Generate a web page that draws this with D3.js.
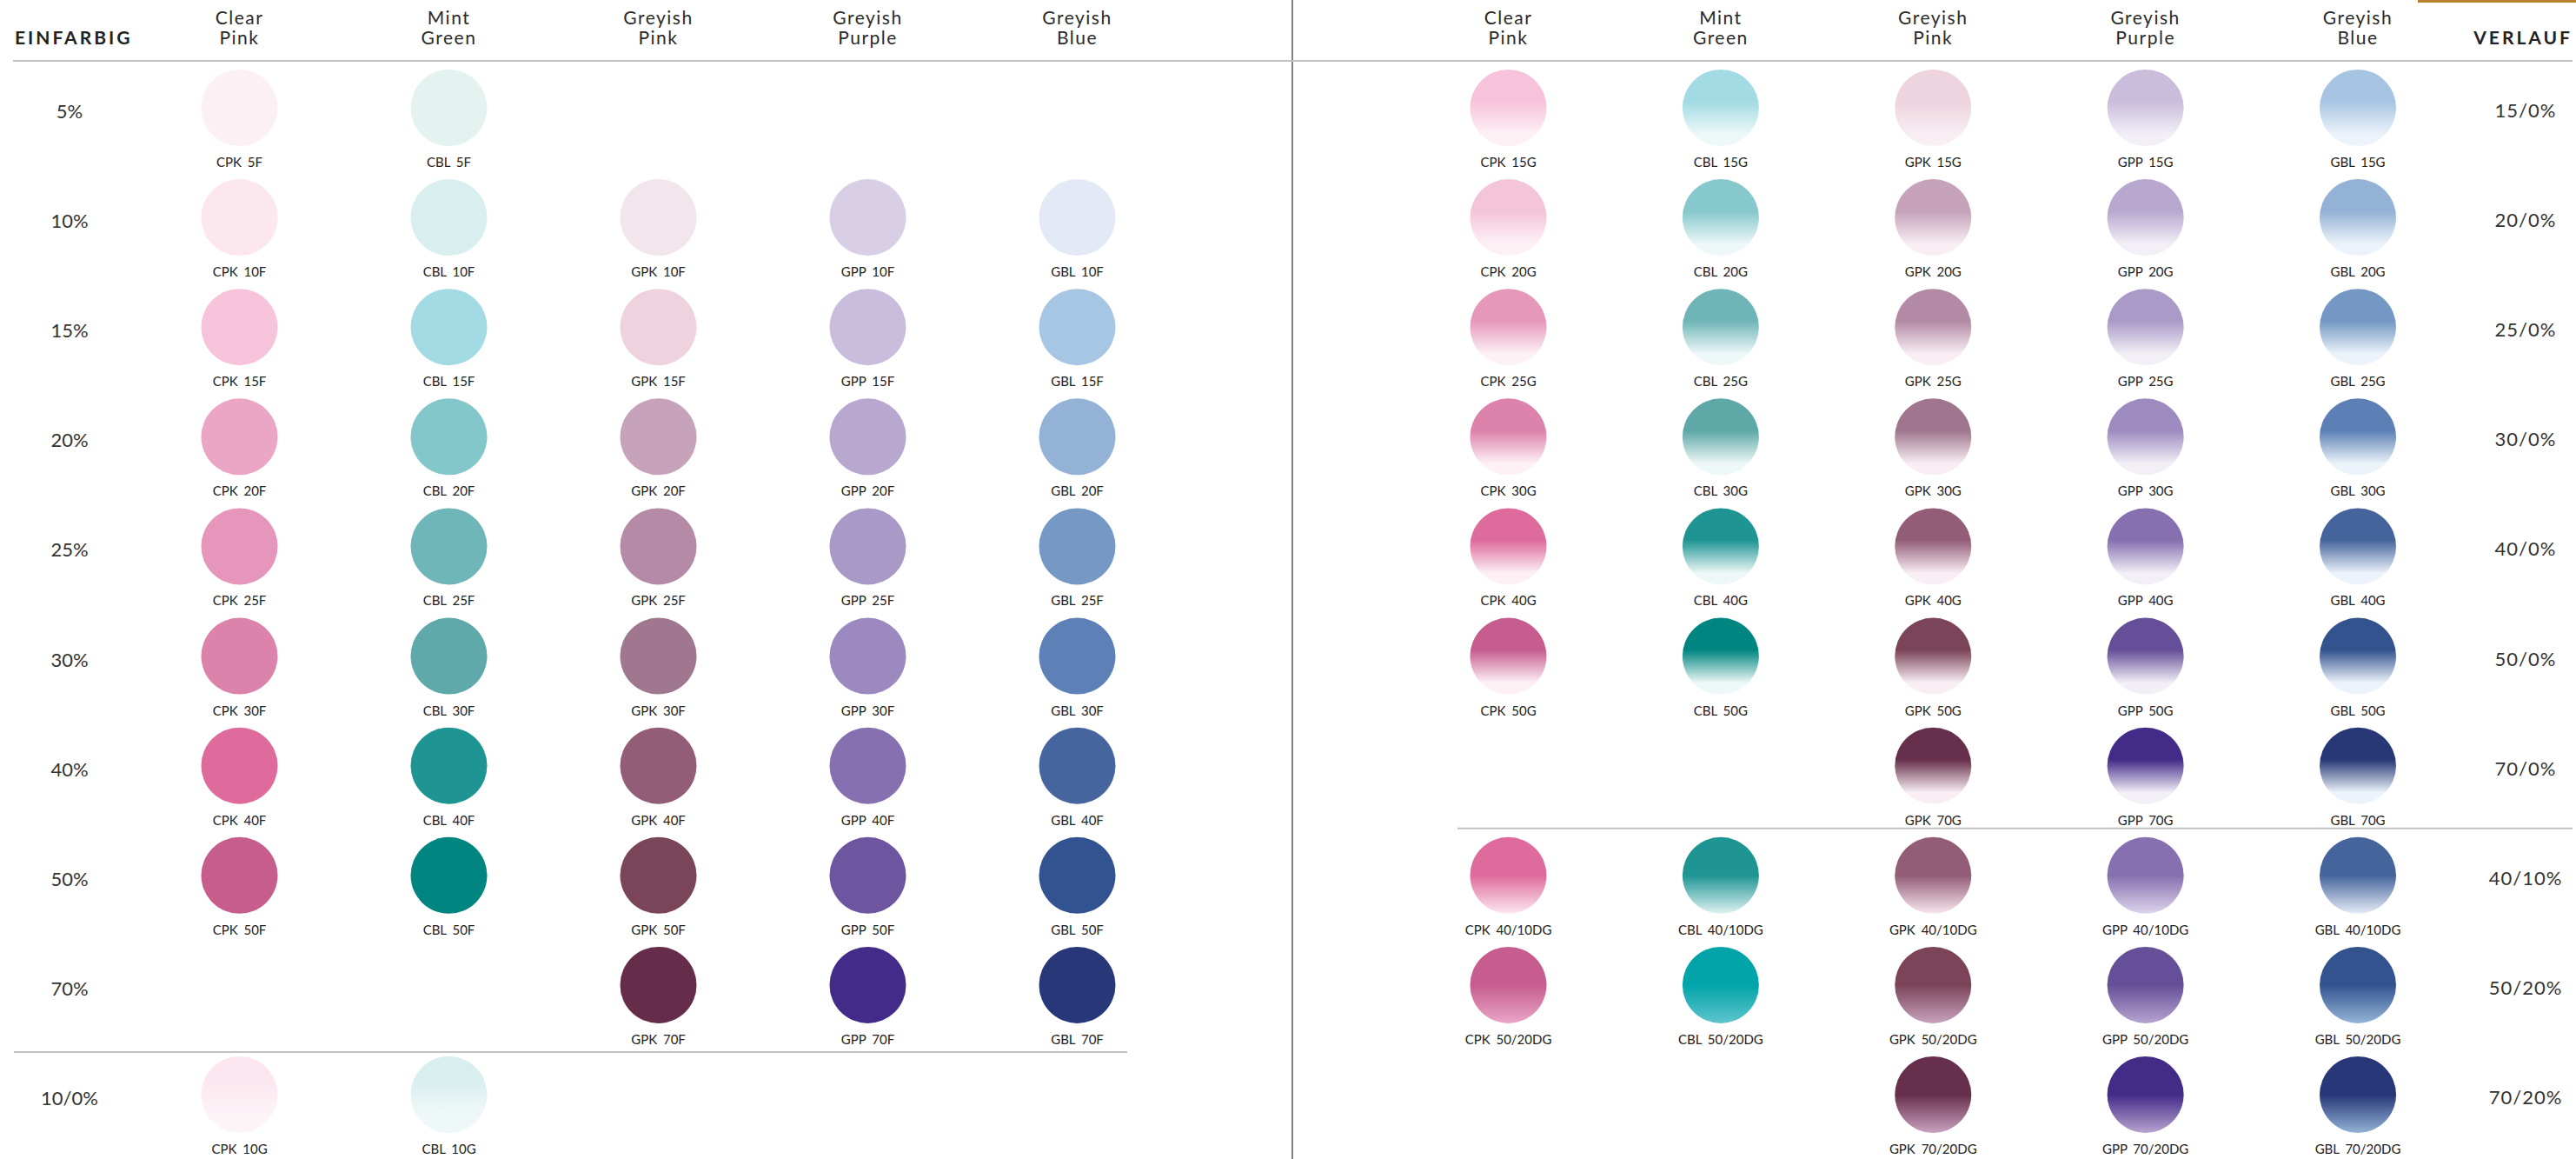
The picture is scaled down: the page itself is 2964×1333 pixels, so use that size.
<!DOCTYPE html>
<html>
<head>
<meta charset="utf-8">
<script src="https://cdn.jsdelivr.net/npm/d3@7"></script>
<style>
  body { margin: 0; background: #fff; }
  svg { display: block; font-family: Lato, 'Open Sans', sans-serif; }
</style>
</head>
<body>
<svg id="chart" width="2964" height="1333"></svg>
<script>
var seriesCodes = ['CPK', 'CBL', 'GPK', 'GPP', 'GBL']
var seriesTitles = [['Clear', 'Pink'], ['Mint', 'Green'], ['Greyish', 'Pink'], ['Greyish', 'Purple'], ['Greyish', 'Blue']]

// EINFARBIG - solid tints
var solidRows = ['5%', '10%', '15%', '20%', '25%', '30%', '40%', '50%', '70%']
var solidSuffix = ['5F', '10F', '15F', '20F', '25F', '30F', '40F', '50F', '70F']
var solidCPK = ['#fcf0f5', '#fce7ef', '#f7c3da', '#eba6c6', '#e696bb', '#dc83ab', '#de6b9b', '#c65d8d', null]
var solidCBL = ['#e4f3f0', '#d9efef', '#a3dbe4', '#84c7cb', '#6fb6b9', '#5fa9aa', '#1f9593', '#008580', null]
var solidGPK = [null, '#f2e5eb', '#eed2de', '#c7a2bb', '#b48aa6', '#9f778f', '#935d77', '#7a4459', '#652d4a']
var solidGPP = [null, '#d8cee6', '#cabcdc', '#b8a8d0', '#a999c7', '#9c89bf', '#8770b0', '#6e55a0', '#432b89']
var solidGBL = [null, '#e3e9f5', '#a7c6e3', '#94b2d5', '#7598c4', '#5d80b6', '#46649d', '#32538f', '#283778']

// EINFARBIG - faded row at the bottom
var fadeRows = ['10/0%']
var fadeSuffix = ['10G']
var fadeTop = ['#fce6ef', '#d8eeef', null, null, null]
var fadeBottom = ['#fdf4f8', '#eff8f8', null, null, null]

// VERLAUF - gradients to clear
var verlaufRows = ['15/0%', '20/0%', '25/0%', '30/0%', '40/0%', '50/0%', '70/0%']
var verlaufSuffix = ['15G', '20G', '25G', '30G', '40G', '50G', '70G']
var verlaufCPK = ['#f7c3da', '#f4c4d8', '#e698bb', '#dc82ab', '#de6b9b', '#c65d8e', null]
var verlaufCBL = ['#a2dbe4', '#86c8cc', '#6fb5b8', '#5fa8a8', '#1f9593', '#008580', null]
var verlaufGPK = ['#eed4de', '#c6a2bb', '#b38aa5', '#9f768e', '#935d78', '#7b4459', '#662f4b']
var verlaufGPP = ['#cabddc', '#b8a8d0', '#a99ac8', '#9d8bc0', '#8670b0', '#654f98', '#432b88']
var verlaufGBL = ['#a7c5e2', '#94b2d5', '#7497c3', '#5c80b5', '#46649c', '#33538f', '#283876']
var verlaufEnd = ['#fdf1f6', '#eef8f8', '#f8eef3', '#f2eff7', '#ecf3fa']

// VERLAUF - double gradients
var dgRows = ['40/10%', '50/20%', '70/20%']
var dgSuffix = ['40/10DG', '50/20DG', '70/20DG']
var dgTopCPK = ['#de6b9b', '#c65d8e', null]
var dgTopCBL = ['#1f9593', '#02a4aa', null]
var dgTopGPK = ['#935d78', '#7b4459', '#662f4b']
var dgTopGPP = ['#8670b0', '#654f98', '#432b88']
var dgTopGBL = ['#46649c', '#33538f', '#283778']
var dgEndCPK = ['#fce8f0', '#eaa6c6', null]
var dgEndCBL = ['#dff2f2', '#5ec5cc', null]
var dgEndGPK = ['#f8e6ee', '#c7a2bc', '#c8a2bf']
var dgEndGPP = ['#ddd4eb', '#b6a4cf', '#b7a4d0']
var dgEndGBL = ['#e4ecf7', '#94b4d8', '#92b3d6']

var W = 2964
var H = 1333
var R = 44
var svg = d3.select('#chart')
var defs = svg.append('defs')

var xLeft = d3.scalePoint().domain(seriesCodes).range([275.5, 1239.5])
var xRight = d3.scalePoint().domain(seriesCodes).range([1735.5, 2713])
var y = d3.scaleLinear().domain([0, 9]).range([124, 1259])

var solidBy = { CPK: solidCPK, CBL: solidCBL, GPK: solidGPK, GPP: solidGPP, GBL: solidGBL }
var verlaufBy = { CPK: verlaufCPK, CBL: verlaufCBL, GPK: verlaufGPK, GPP: verlaufGPP, GBL: verlaufGBL }
var dgTopBy = { CPK: dgTopCPK, CBL: dgTopCBL, GPK: dgTopGPK, GPP: dgTopGPP, GBL: dgTopGBL }
var dgEndBy = { CPK: dgEndCPK, CBL: dgEndCBL, GPK: dgEndGPK, GPP: dgEndGPP, GBL: dgEndGBL }

// build cell list
var cells = []
seriesCodes.forEach(function (s, si) {
  solidBy[s].forEach(function (c, i) {
    if (c) cells.push({ side: 'L', s: s, row: i, name: s + ' ' + solidSuffix[i], top: c })
  })
  fadeRows.forEach(function (r, i) {
    if (fadeTop[si]) cells.push({ side: 'L', s: s, row: solidRows.length + i, name: s + ' ' + fadeSuffix[i], top: fadeTop[si], end: fadeBottom[si], stops: [0.3, 0.75] })
  })
  verlaufBy[s].forEach(function (c, i) {
    if (c) cells.push({ side: 'R', s: s, row: i, name: s + ' ' + verlaufSuffix[i], top: c, end: verlaufEnd[si], stops: [0.42, 0.85] })
  })
  dgTopBy[s].forEach(function (c, i) {
    if (c) cells.push({ side: 'R', s: s, row: verlaufRows.length + i, name: s + ' ' + dgSuffix[i], top: c, end: dgEndBy[s][i], stops: [0.5, 1] })
  })
})

cells.forEach(function (d, i) {
  if (!d.end) return
  d.grad = 'g' + i
  var g = defs.append('linearGradient').attr('id', d.grad)
    .attr('x1', 0).attr('y1', 0).attr('x2', 0).attr('y2', 1)
  g.append('stop').attr('offset', 0).attr('stop-color', d.top)
  g.append('stop').attr('offset', d.stops[0]).attr('stop-color', d.top)
  g.append('stop').attr('offset', d.stops[1]).attr('stop-color', d.end)
  g.append('stop').attr('offset', 1).attr('stop-color', d.end)
})

var cx = function (d) { return d.side === 'L' ? xLeft(d.s) : xRight(d.s) }

// lines
svg.append('rect').attr('x', 2782).attr('y', 0).attr('width', W - 2782).attr('height', 3).attr('fill', '#b5812a')
svg.append('line').attr('x1', 1487).attr('x2', 1487).attr('y1', 0).attr('y2', H)
  .attr('stroke', '#808080').attr('stroke-width', 2)
svg.append('line').attr('x1', 15).attr('x2', 2960).attr('y1', 70).attr('y2', 70)
  .attr('stroke', '#c2c2c2').attr('stroke-width', 2)
svg.append('line').attr('x1', 16).attr('x2', 1297)
  .attr('y1', y(solidRows.length - 1) + 77).attr('y2', y(solidRows.length - 1) + 77)
  .attr('stroke', '#c2c2c2').attr('stroke-width', 2)
svg.append('line').attr('x1', 1677).attr('x2', 2960)
  .attr('y1', y(verlaufRows.length - 1) + 72).attr('y2', y(verlaufRows.length - 1) + 72)
  .attr('stroke', '#c2c2c2').attr('stroke-width', 2)

// section titles
svg.append('text').attr('x', 17).attr('y', 51).text('EINFARBIG')
  .attr('font-size', 21).attr('font-weight', 700).attr('letter-spacing', 3).attr('fill', '#222')
svg.append('text').attr('x', 2960).attr('y', 51).attr('text-anchor', 'end').text('VERLAUF')
  .attr('font-size', 21).attr('font-weight', 700).attr('letter-spacing', 3).attr('fill', '#222')

// column headers
;[xLeft, xRight].forEach(function (xs) {
  var hd = svg.append('g').selectAll('text').data(seriesCodes).join('text')
    .attr('x', function (d) { return xs(d) })
    .attr('text-anchor', 'middle').attr('font-size', 21).attr('font-weight', 400)
    .attr('letter-spacing', 1.5).attr('fill', '#2a2a2a')
  hd.append('tspan').attr('x', function (d) { return xs(d) }).attr('y', 28)
    .text(function (d, i) { return seriesTitles[i][0] })
  hd.append('tspan').attr('x', function (d) { return xs(d) }).attr('y', 51)
    .text(function (d, i) { return seriesTitles[i][1] })
})

// row labels
svg.append('g').selectAll('text').data(solidRows.concat(fadeRows)).join('text')
  .attr('x', 80).attr('y', function (d, i) { return y(i) + 12 })
  .attr('text-anchor', 'middle').attr('font-size', 22).attr('fill', '#333')
  .text(function (d) { return d })
svg.append('g').selectAll('text').data(verlaufRows.concat(dgRows)).join('text')
  .attr('x', 2906).attr('y', function (d, i) { return y(i) + 11 })
  .attr('text-anchor', 'middle').attr('font-size', 22).attr('letter-spacing', 1).attr('fill', '#333')
  .text(function (d) { return d })

// swatches
var cell = svg.append('g').selectAll('g').data(cells).join('g')
  .attr('transform', function (d) { return 'translate(' + cx(d) + ',' + y(d.row) + ')' })
cell.append('circle').attr('r', R)
  .attr('fill', function (d) { return d.grad ? 'url(#' + d.grad + ')' : d.top })
cell.append('text').attr('y', 68).attr('text-anchor', 'middle')
  .attr('font-size', 15).attr('word-spacing', 3).attr('fill', '#222')
  .text(function (d) { return d.name })
</script>
</body>
</html>
